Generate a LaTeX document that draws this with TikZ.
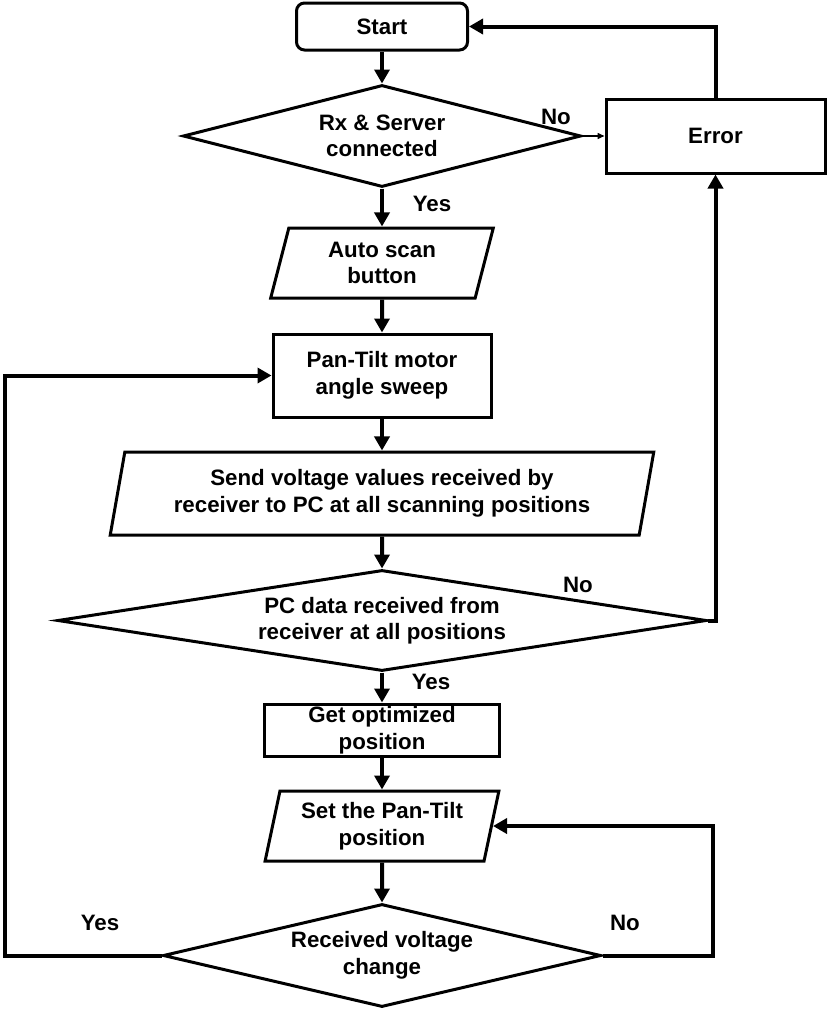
\documentclass[tikz,border=0pt]{standalone}
\usepackage{fontspec}
\setmainfont{Liberation Sans}
\usetikzlibrary{shapes.geometric,arrows.meta}
\newcommand{\flowFont}[0]{\fontsize{22.3}{26.5}\selectfont\bfseries}

\begin{document}
\begin{tikzpicture}[x=1pt, y=1pt, >={Triangle[length=14pt,width=15pt]}]
  \tikzset{every node/.style={align=center,font=\flowFont},
    terminal/.style={draw,line width=3pt,rounded corners=8pt,minimum width=171pt,minimum height=47pt},
    process/.style={draw,line width=3pt,rectangle},
    io/.style={draw,line width=3pt,trapezium,trapezium left angle=76,trapezium right angle=104,
      trapezium stretches=true,inner sep=0pt},
    decision/.style={draw,line width=3pt,diamond,inner sep=0pt},
    flow/.style={line width=4pt},
    answer/.style={inner sep=0pt}}
  \useasboundingbox (0,0) rectangle (827,-1009);
  \node[terminal] (start) at (382,-26.5) {Start};
  \node[decision, aspect=3.9, minimum width=398pt, minimum height=102pt] (dec1) at (382,-136) {Rx \& Server\\connected};
  \node[process, minimum width=219pt, minimum height=74pt] (error) at (715.5,-136) {Error};
  \node[io, minimum width=223pt, minimum height=70pt] (scan) at (382,-263) {Auto scan\\button};
  \node[process, minimum width=218pt, minimum height=83pt] (sweep) at (382,-375.5) {Pan-Tilt motor\\angle sweep};
  \node[io, minimum width=547pt, minimum height=83pt] (send) at (382,-493.5) {Send voltage values received by\\receiver to PC at all scanning positions};
  \node[decision, aspect=6.4, minimum width=649pt, minimum height=101pt] (dec2) at (382,-620.5) {PC data received from\\receiver at all positions};
  \node[process, minimum width=235pt, minimum height=52pt, inner sep=0pt] (optim) at (382,-730) {Get optimized\\position};
  \node[io, minimum width=234pt, minimum height=70pt] (setpos) at (382,-826) {Set the Pan-Tilt\\position};
  \node[decision, aspect=4.25, minimum width=438pt, minimum height=103pt] (dec3) at (382,-955.5) {Received voltage\\change};
  \node[answer] (no-1) at (556,-117) {No};
  \node[answer] (yes-1) at (432,-204) {Yes};
  \node[answer] (no-2) at (578,-585) {No};
  \node[answer] (yes-2) at (431,-682) {Yes};
  \node[answer] (yes-3) at (100,-923) {Yes};
  \node[answer] (no-3) at (625,-923) {No};
  \coordinate (yes-turn) at (5,-955.5);
  \coordinate (no-turn) at (713,-955.5);
  \draw[flow,->] (start) -- (dec1);
  \draw[line width=1.5pt,-{Triangle[length=7pt,width=6pt]}] (dec1.east) -- (error.west);
  \draw[flow,->] (error.north) |- (start.east);
  \draw[flow,->] (dec1) -- (scan);
  \draw[flow,->] (scan) -- (sweep);
  \draw[flow,->] (sweep) -- (send);
  \draw[flow,->] (send) -- (dec2);
  \draw[flow,->] (dec2.east) -| (error.south);
  \draw[flow,->] (dec2) -- (optim);
  \draw[flow,->] (optim) -- (setpos);
  \draw[flow,->] (setpos) -- (dec3);
  \draw[flow,->] (dec3.east) -- (no-turn) |- (setpos.east);
  \draw[flow,->] (dec3.west) -- (yes-turn) |- (sweep.west);
\end{tikzpicture}
\end{document}
